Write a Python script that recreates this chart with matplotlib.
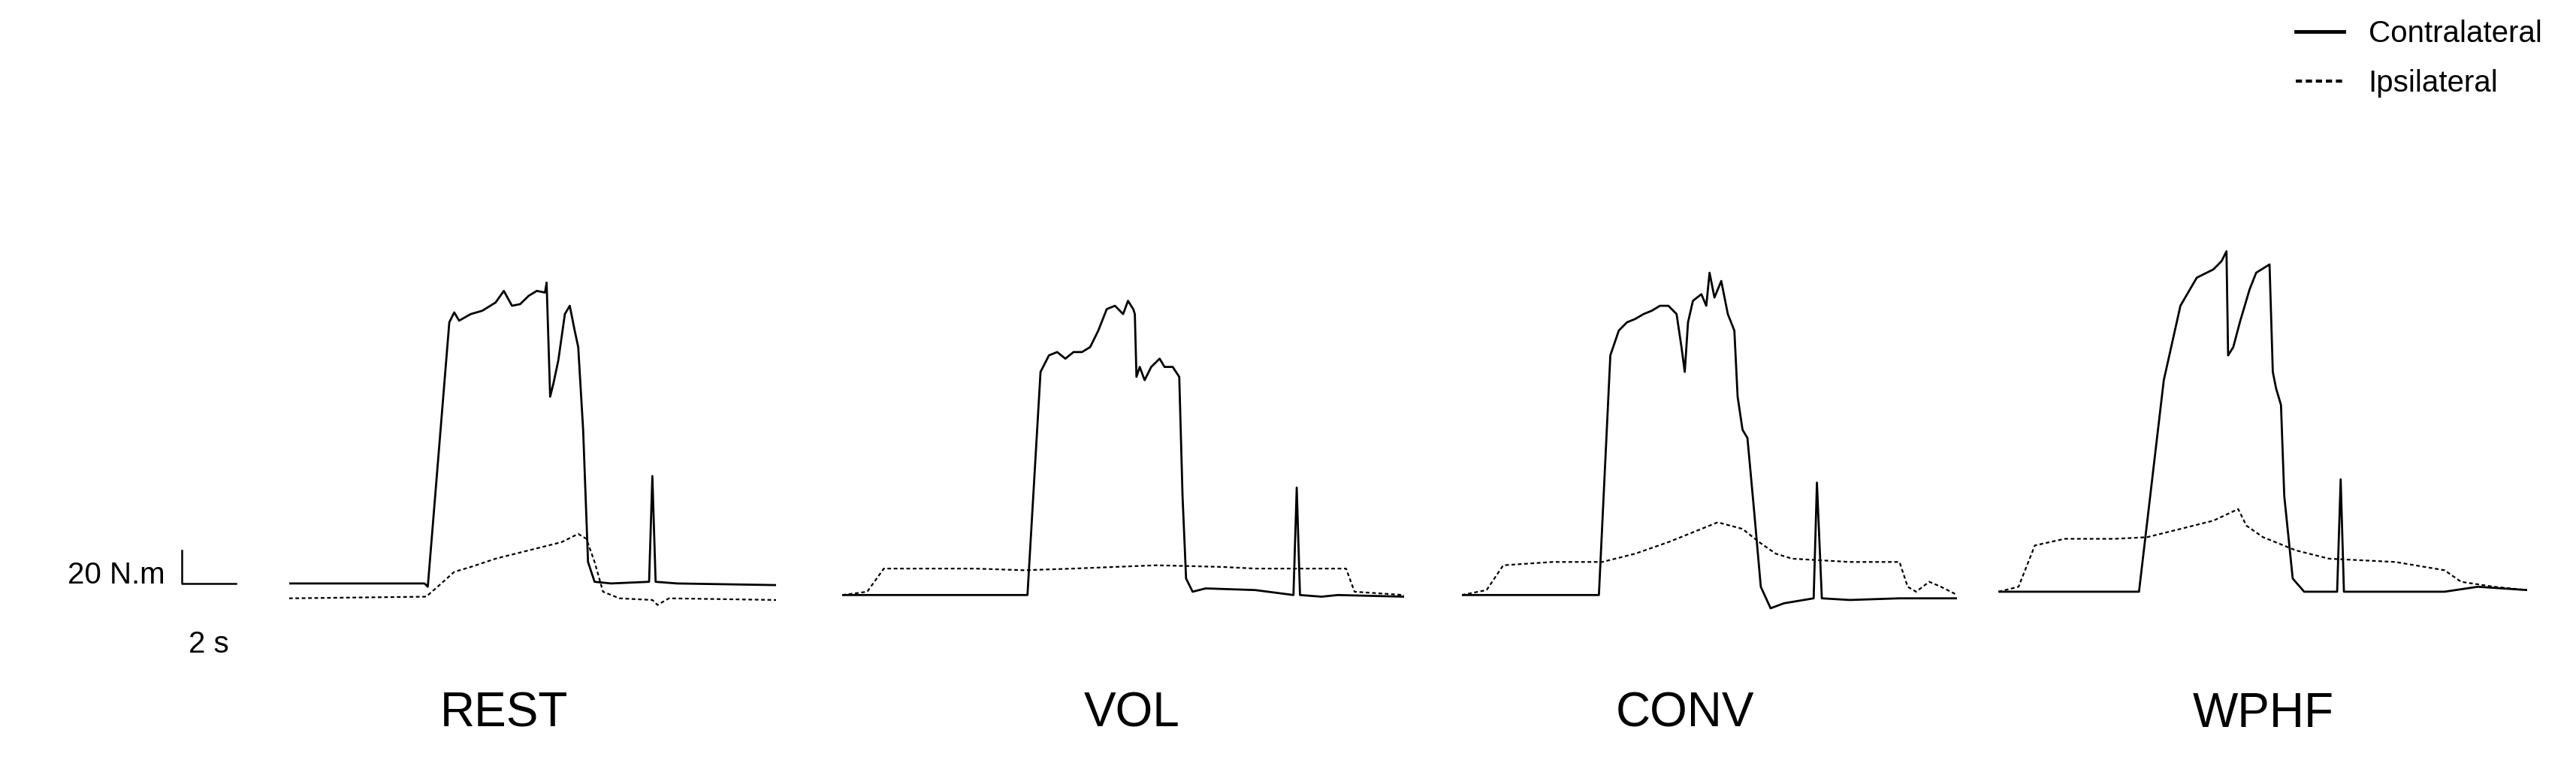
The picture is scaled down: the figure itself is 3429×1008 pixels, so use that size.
import matplotlib
matplotlib.use("Agg")
import matplotlib.pyplot as plt
from matplotlib.lines import Line2D

plt.rcParams['font.family'] = ['Liberation Sans', 'DejaVu Sans']

conditions = ["REST", "VOL", "CONV", "WPHF"]

# time (s) and torque (N.m)
rest_contra_t = [0, 4.97, 5.09, 5.88, 6.06, 6.24, 6.67, 7.09, 7.58, 7.88, 8.18, 8.48, 8.79, 9.09, 9.39, 9.45,
                 9.58, 9.70, 9.88, 10.12, 10.30, 10.48, 10.61, 10.79, 10.97, 11.21, 11.82, 13.21, 13.33, 13.45, 14.24, 17.88]
rest_contra_v = [0, 0, -2, 158, 164, 159, 163, 165, 170, 177, 168, 169, 174, 177, 176, 182,
                 113, 121, 135, 163, 168, 153, 143, 93, 13, 1, 0, 1, 65, 1, 0, -1]
rest_ipsi_t = [0, 5.03, 5.45, 6.06, 6.67, 7.58, 8.79, 10.0, 10.61, 10.91, 11.21, 11.52, 12.12, 13.33, 13.52, 13.94, 17.88]
rest_ipsi_v = [-9, -8, -2, 7, 10, 15, 20, 25, 30, 27, 13, -5, -9, -10, -13, -9, -10]

vol_contra_t = [0, 6.79, 7.27, 7.58, 7.88, 8.18, 8.48, 8.79, 9.09, 9.39, 9.70, 10.0, 10.30, 10.48, 10.67, 10.73, 10.79,
                10.91, 11.09, 11.33, 11.64, 11.82, 12.12, 12.36, 12.48, 12.61, 12.85, 13.33, 15.15, 16.55, 16.67, 16.79,
                17.58, 18.18, 20.61]
vol_contra_v = [-7, -7, 128, 138, 140, 136, 140, 140, 143, 153, 166, 168, 163, 171, 166, 163, 125,
                131, 123, 131, 136, 131, 131, 125, 53, 3, -5, -3, -4, -7, 58, -7,
                -8, -7, -8]
vol_ipsi_t = [0, 0.91, 1.52, 3.03, 4.85, 6.67, 8.48, 11.52, 13.94, 15.15, 16.97, 18.48, 18.79, 20.61]
vol_ipsi_v = [-7, -5, 9, 9, 9, 8, 9, 11, 10, 9, 9, 9, -5, -7]

conv_contra_t = [0, 5.03, 5.45, 5.76, 6.06, 6.36, 6.67, 6.97, 7.27, 7.58, 7.88, 8.06, 8.18, 8.30, 8.48, 8.79, 8.97,
                 9.09, 9.27, 9.52, 9.76, 10.0, 10.12, 10.30, 10.48, 10.73, 10.97, 11.33, 11.82, 12.91, 13.03, 13.21,
                 14.24, 16.06, 18.18]
conv_contra_v = [-7, -7, 138, 153, 158, 160, 163, 165, 168, 168, 163, 143, 128, 158, 171, 175, 168,
                 188, 173, 183, 163, 153, 113, 93, 88, 43, -2, -15, -12, -9, 61, -9,
                 -10, -9, -9]
conv_ipsi_t = [0, 0.91, 1.52, 3.33, 5.15, 6.36, 7.58, 8.79, 9.39, 10.30, 10.91, 11.52, 12.12, 14.24, 16.06,
               16.36, 16.67, 17.15, 17.58, 18.18]
conv_ipsi_v = [-7, -4, 11, 13, 13, 18, 25, 33, 37, 33, 25, 18, 15, 13, 13, -2, -5, 1, -2, -7]

wphf_contra_t = [0, 5.15, 6.06, 6.67, 7.27, 7.88, 8.18, 8.36, 8.42, 8.61, 8.85, 9.21, 9.45, 9.94, 10.06, 10.18,
                 10.36, 10.48, 10.79, 11.21, 12.42, 12.55, 12.67, 13.33, 16.36, 17.58, 19.39]
wphf_contra_v = [-5, -5, 123, 168, 185, 190, 195, 201, 138, 143, 158, 178, 188, 193, 128, 118,
                 108, 53, 3, -5, -5, 63, -5, -5, -5, -2, -4]
wphf_ipsi_t = [0, 0.73, 1.33, 2.42, 4.24, 5.45, 6.67, 7.88, 8.79, 9.09, 9.70, 10.91, 12.12, 14.55, 16.36,
               16.97, 18.18, 19.39]
wphf_ipsi_v = [-5, -2, 23, 27, 27, 28, 33, 38, 45, 35, 28, 20, 15, 13, 8, 1, -2, -4]

contra = [(rest_contra_t, rest_contra_v), (vol_contra_t, vol_contra_v),
          (conv_contra_t, conv_contra_v), (wphf_contra_t, wphf_contra_v)]
ipsi = [(rest_ipsi_t, rest_ipsi_v), (vol_ipsi_t, vol_ipsi_v),
        (conv_ipsi_t, conv_ipsi_v), (wphf_ipsi_t, wphf_ipsi_v)]

# layout (in a 1560-wide reference frame)
W = 1560.0
px_per_s = 16.5
panel_left = [175, 510, 885, 1210]
label_x = [305, 685, 1020, 1370]
ylim = (-105, 353)

fig = plt.figure(figsize=(34.3, 10.08), dpi=100)
dashed = (0, (2.2, 1.6))

axes = []
for i, name in enumerate(conditions):
    dur = max(contra[i][0][-1], ipsi[i][0][-1])
    ax = fig.add_axes([panel_left[i] / W, 0, dur * px_per_s / W, 1])
    ax.plot(*contra[i], color="black", lw=2.0)
    ax.plot(*ipsi[i], color="black", lw=1.6, ls=dashed)
    ax.set_xlim(0, dur)
    ax.set_ylim(*ylim)
    ax.axis("off")
    fig.text(label_x[i] / W, 1 - 432 / 458.0, name, ha="center", va="center", fontsize=46)
    axes.append(ax)

# scale bar
ax = axes[0]
x0 = (110 - 175) / px_per_s
ax.plot([x0, x0, x0 + 2], [20, 0, 0], color="black", lw=1.8, clip_on=False)
ax.text(x0 - 0.6, 5, "20 N.m", ha="right", va="center", fontsize=29)
ax.text(x0 + 1, -37, "2 s", ha="center", va="center", fontsize=29)

handles = [Line2D([], [], color="black", lw=3.5),
           Line2D([], [], color="black", lw=3.0, ls=(0, (2, 1.2)))]
fig.legend(handles, ["Contralateral", "Ipsilateral"], loc="upper right",
           bbox_to_anchor=(0.997, 1.01), frameon=False, fontsize=29,
           handlelength=1.6, handletextpad=0.8, labelspacing=0.7)

fig.savefig("out.png", dpi=100)
